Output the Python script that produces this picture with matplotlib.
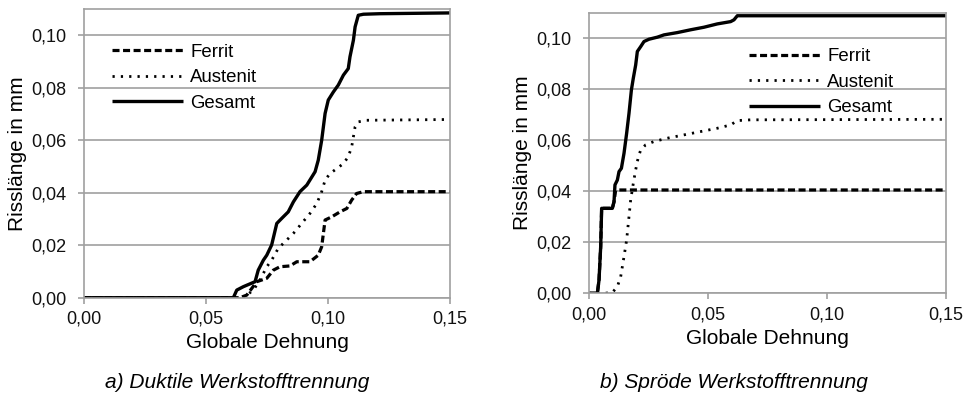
import numpy as np
import matplotlib.pyplot as plt

plt.rcParams['font.family'] = ['Liberation Sans', 'DejaVu Sans']

# a) Duktile Werkstofftrennung
a_ges_x = [0.0, 0.0612, 0.0626, 0.0653, 0.0701, 0.0714, 0.0735, 0.0749, 0.0769, 0.0790, 0.0810,
           0.0837, 0.0858, 0.0885, 0.0913, 0.0947, 0.0960, 0.0974, 0.0988, 0.1001, 0.1022,
           0.1042, 0.1063, 0.1083, 0.1090, 0.1104, 0.1111, 0.1124, 0.1145, 0.1213, 0.15]
a_ges_y = [0.0, 0.0, 0.0029, 0.0042, 0.0061, 0.0105, 0.0143, 0.0162, 0.0201, 0.0283, 0.0302,
           0.0327, 0.0365, 0.0404, 0.0429, 0.0480, 0.0524, 0.0600, 0.0702, 0.0753, 0.0784,
           0.0810, 0.0848, 0.0873, 0.0918, 0.0981, 0.1032, 0.1076, 0.1080, 0.1082, 0.1085]
a_aus_x = [0.0, 0.0653, 0.0694, 0.0721, 0.0749, 0.0769, 0.0796, 0.0831, 0.0858, 0.0892, 0.0926,
           0.0954, 0.0974, 0.0988, 0.1008, 0.1036, 0.1063, 0.1083, 0.1097, 0.1104, 0.1111,
           0.1124, 0.1158, 0.15]
a_aus_y = [0.0, 0.0, 0.0029, 0.0067, 0.0118, 0.0143, 0.0188, 0.0220, 0.0245, 0.0283, 0.0321,
           0.0359, 0.0404, 0.0448, 0.0473, 0.0492, 0.0511, 0.0537, 0.0575, 0.0613, 0.0651,
           0.0670, 0.0676, 0.0679]
a_fer_x = [0.0, 0.0639, 0.0667, 0.0708, 0.0749, 0.0776, 0.0803, 0.0844, 0.0872, 0.0926, 0.0960,
           0.0974, 0.0981, 0.0988, 0.1015, 0.1049, 0.1077, 0.1097, 0.1117, 0.1145, 0.15]
a_fer_y = [0.0, 0.0, 0.0010, 0.0061, 0.0074, 0.0105, 0.0118, 0.0121, 0.0137, 0.0137, 0.0162,
           0.0194, 0.0245, 0.0296, 0.0308, 0.0327, 0.0340, 0.0372, 0.0397, 0.0404, 0.0404]

# b) Spröde Werkstofftrennung
b_ges_x = [0.0, 0.0035, 0.0042, 0.0049, 0.0053, 0.0098, 0.0105, 0.0109, 0.0119, 0.0126, 0.0136,
           0.0147, 0.0158, 0.0168, 0.0178, 0.0186, 0.0196, 0.0203, 0.0217, 0.0231, 0.0252,
           0.0287, 0.0315, 0.0371, 0.0427, 0.0483, 0.0539, 0.0595, 0.0609, 0.0623, 0.15]
b_ges_y = [0.0, 0.0, 0.0052, 0.0183, 0.0333, 0.0333, 0.0359, 0.0425, 0.0444, 0.0477, 0.0490,
           0.0549, 0.0627, 0.0706, 0.0797, 0.0843, 0.0895, 0.0948, 0.0967, 0.0987, 0.0996,
           0.1004, 0.1013, 0.1022, 0.1033, 0.1043, 0.1056, 0.1065, 0.1072, 0.1088, 0.1088]
b_aus_x = [0.0, 0.0063, 0.0098, 0.0119, 0.0133, 0.0147, 0.0158, 0.0168, 0.0175, 0.0186, 0.0196,
           0.0206, 0.0217, 0.0238, 0.0273, 0.0329, 0.0399, 0.0469, 0.0539, 0.0595, 0.0623,
           0.0679, 0.15]
b_aus_y = [0.0, 0.0, 0.0003, 0.0026, 0.0065, 0.0144, 0.0209, 0.0301, 0.0366, 0.0431, 0.0484,
           0.0529, 0.0562, 0.0582, 0.0595, 0.0608, 0.0621, 0.0634, 0.0647, 0.0660, 0.0677,
           0.0680, 0.0682]
b_fer_x = [0.0, 0.0035, 0.0042, 0.0049, 0.0053, 0.0098, 0.0105, 0.0112, 0.15]
b_fer_y = [0.0, 0.0, 0.0052, 0.0183, 0.0333, 0.0333, 0.0359, 0.0405, 0.0405]

x_ticks = [0.0, 0.05, 0.10, 0.15]
y_ticks = [0.0, 0.02, 0.04, 0.06, 0.08, 0.10]
captions = ['a) Duktile Werkstofftrennung', 'b) Spröde Werkstofftrennung']

fig = plt.figure(figsize=(9.68, 3.94), dpi=100)
ax1 = fig.add_axes([0.0868, 0.2444, 0.3781, 0.7328])
ax2 = fig.add_axes([0.6085, 0.2556, 0.3688, 0.7122])

grey = '#a0a0a0'
panels = [(ax1, a_fer_x, a_fer_y, a_aus_x, a_aus_y, a_ges_x, a_ges_y),
          (ax2, b_fer_x, b_fer_y, b_aus_x, b_aus_y, b_ges_x, b_ges_y)]
leg_pos = [(0.056, 0.905), (0.427, 0.900)]

for i, (ax, fx, fy, ax_, ay, gx, gy) in enumerate(panels):
    ax.plot(fx, fy, color='black', lw=2.3, ls=(0, (2.2, 1.1)), label='Ferrit')
    ax.plot(ax_, ay, color='black', lw=2.0, ls=(0, (0.8, 2.2)), label='Austenit')
    ax.plot(gx, gy, color='black', lw=2.4, label='Gesamt', solid_capstyle='butt')
    ax.set_xlim(0, 0.15)
    ax.set_ylim(0, 0.11)
    ax.set_xticks(x_ticks)
    ax.set_yticks(y_ticks)
    ax.set_xticklabels([f'{v:.2f}'.replace('.', ',') for v in x_ticks])
    ax.set_yticklabels([f'{v:.2f}'.replace('.', ',') for v in y_ticks])
    ax.grid(axis='y', color=grey, lw=1.2)
    ax.set_axisbelow(True)
    for s in ax.spines.values():
        s.set_color(grey)
        s.set_linewidth(1.2)
    ax.tick_params(direction='out', length=4.5, width=1.2, color=grey,
                   labelsize=13, labelcolor='#111111')
    ax.tick_params(axis='y', pad=8)
    ax.tick_params(axis='x', pad=5)
    ax.set_xlabel('Globale Dehnung', fontsize=15, labelpad=4)
    ax.set_ylabel('Risslänge in mm', fontsize=15, labelpad=3)
    ax.legend(loc='upper left', bbox_to_anchor=leg_pos[i], frameon=False,
              fontsize=13.4, handlelength=3.8, handletextpad=0.4, labelspacing=0.45,
              borderaxespad=0)

fig.text(237 / 968, 1 - 382 / 394, captions[0], ha='center', va='center',
         fontsize=15, style='italic')
fig.text(734 / 968, 1 - 383 / 394, captions[1], ha='center', va='center',
         fontsize=15, style='italic')

fig.savefig('out.png', dpi=100)
